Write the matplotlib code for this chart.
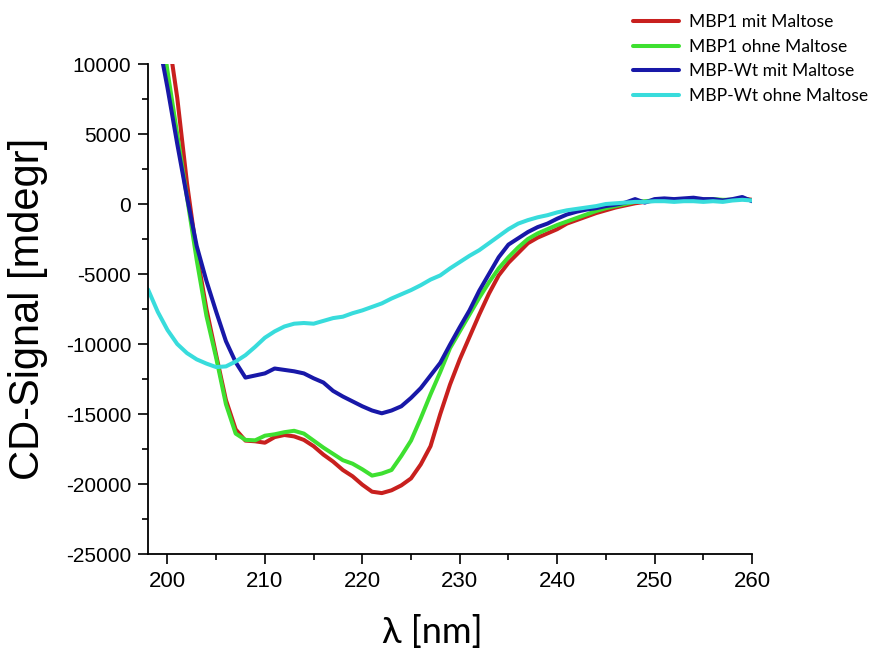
import numpy as np
import matplotlib
matplotlib.use("Agg")
import matplotlib.pyplot as plt
from matplotlib.ticker import MultipleLocator

plt.rcParams['axes.unicode_minus'] = False
plt.rcParams['font.family'] = ['Liberation Sans', 'DejaVu Sans']

# wavelength grid [nm]
wl = np.arange(198, 261)

mbp1_mit = [22000, 17000, 12400, 7600, 1500, -3500, -7500, -10800, -14000, -16100,
            -16900, -16950, -17050, -16650, -16500, -16600, -16850, -17300, -17900, -18400,
            -19000, -19450, -20050, -20550, -20650, -20450, -20100, -19600, -18600, -17300,
            -15000, -12900, -11100, -9500, -7900, -6400, -5100, -4200, -3500, -2800,
            -2400, -2100, -1800, -1400, -1150, -900, -650, -450, -250, -100,
            50, 150, 250, 250, 300, 250, 350, 300, 300, 250,
            300, 400, 300]

mbp1_ohne = [19000, 14500, 9500, 5000, 500, -4000, -8000, -11000, -14300, -16400,
             -16850, -16880, -16550, -16450, -16300, -16200, -16400, -16900, -17400, -17850,
             -18300, -18550, -18950, -19400, -19250, -19000, -18000, -16900, -15300, -13600,
             -12000, -10300, -9100, -7900, -6700, -5600, -4600, -3800, -3100, -2500,
             -2100, -1800, -1500, -1250, -1000, -750, -500, -300, -150, 0,
             150, 200, 250, 250, 300, 300, 300, 300, 350, 300,
             300, 400, 250]

wt_mit = [15000, 12000, 8300, 4300, 500, -3000, -5500, -7700, -9800, -11300,
          -12400, -12250, -12100, -11750, -11850, -11950, -12100, -12450, -12750, -13350,
          -13750, -14100, -14450, -14750, -14950, -14750, -14450, -13850, -13150, -12250,
          -11350, -10050, -8800, -7600, -6200, -5000, -3800, -2900, -2450, -2000,
          -1650, -1400, -1050, -750, -550, -400, -300, -150, -50, 100,
          350, 100, 350, 400, 350, 400, 450, 350, 350, 250,
          350, 500, 200]

wt_ohne = [-6100, -7700, -9000, -10000, -10650, -11100, -11400, -11650, -11600, -11250,
           -10800, -10200, -9550, -9100, -8750, -8550, -8500, -8550, -8350, -8150,
           -8050, -7800, -7600, -7350, -7100, -6750, -6450, -6150, -5800, -5400,
           -5100, -4600, -4150, -3700, -3300, -2800, -2300, -1800, -1400, -1150,
           -950, -800, -600, -450, -350, -250, -150, 0, 50, 100,
           150, 150, 200, 200, 150, 200, 200, 150, 200, 150,
           250, 300, 250]

labels = ['MBP1 mit Maltose', 'MBP1 ohne Maltose', 'MBP-Wt mit Maltose', 'MBP-Wt ohne Maltose']
colors = ['#c8201e', '#3ee030', '#1818a8', '#38dcdc']

fig = plt.figure(figsize=(8.73, 6.5), dpi=100)
ax = fig.add_axes([148/873, 96/650, 604/873, 490/650])

for y, lab, c in zip([mbp1_mit, mbp1_ohne, wt_mit, wt_ohne], labels, colors):
    ax.plot(wl, y, color=c, lw=2.9, label=lab, solid_capstyle='round')

ax.set_xlim(198, 260)
ax.set_ylim(-25000, 10000)
ax.spines['top'].set_visible(False)
ax.spines['right'].set_visible(False)
for s in ['left', 'bottom']:
    ax.spines[s].set_linewidth(1.3)

ax.xaxis.set_major_locator(MultipleLocator(10))
ax.xaxis.set_minor_locator(MultipleLocator(5))
ax.yaxis.set_major_locator(MultipleLocator(5000))
ax.yaxis.set_minor_locator(MultipleLocator(2500))
ax.tick_params(which='major', direction='out', length=7, width=1.2, pad=5)
ax.tick_params(which='minor', direction='out', length=4, width=1.2)
ax.tick_params(axis='y', labelsize=15)
ax.tick_params(axis='x', labelsize=16)

ax.set_ylabel('CD-Signal [mdegr]', fontsize=30)
ax.yaxis.set_label_coords(-0.165, 0.5)
ax.set_xlabel('λ [nm]', fontsize=26, family=['Lato', 'DejaVu Sans'])
ax.xaxis.set_label_coords(0.47, -0.125)

fig.legend(loc='upper left', bbox_to_anchor=(633/873, 1 - 14/650), frameon=False,
           prop={'family': ['Lato', 'DejaVu Sans'], 'size': 12.6},
           handlelength=2.65, handletextpad=0.55, labelspacing=0.5,
           borderpad=0, borderaxespad=0)

fig.savefig('out.png', dpi=100)
